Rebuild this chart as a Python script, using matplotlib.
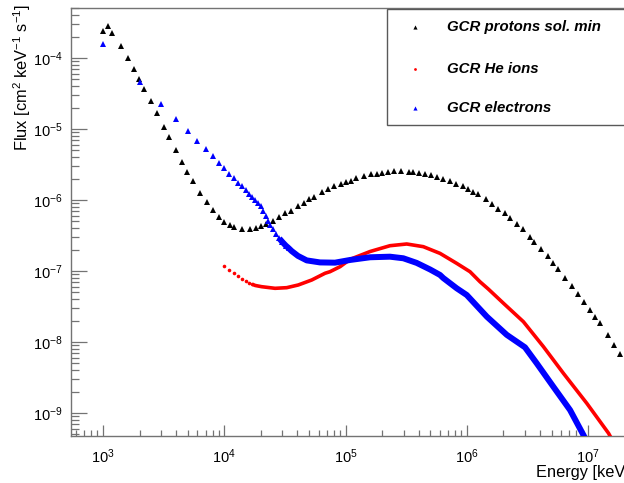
import matplotlib
matplotlib.use("Agg")
from matplotlib import pyplot as plt
from matplotlib.patches import Rectangle
from matplotlib.ticker import LogLocator, NullFormatter

plt.rcParams['font.family'] = ['Liberation Sans', 'DejaVu Sans']
plt.rcParams['mathtext.fontset'] = 'custom'
plt.rcParams['mathtext.rm'] = 'Liberation Sans'
plt.rcParams['mathtext.it'] = 'Liberation Sans:italic'
plt.rcParams['mathtext.bf'] = 'Liberation Sans:bold'

### data ###
# GCR protons, solar minimum
proton_e = [1.0e3, 1.09e3, 1.19e3, 1.40e3, 1.60e3, 1.79e3, 1.99e3, 2.19e3, 2.49e3, 2.80e3,
            3.20e3, 3.48e3, 4.00e3, 4.51e3, 4.95e3, 5.52e3, 6.34e3, 7.16e3, 8.02e3, 9.04e3,
            1.00e4, 1.11e4, 1.21e4, 1.41e4, 1.62e4, 1.81e4, 2.01e4, 2.22e4, 2.51e4, 2.82e4,
            3.16e4, 3.55e4, 4.07e4, 4.54e4, 5.02e4, 5.52e4, 6.35e4, 7.20e4, 8.07e4, 9.11e4,
            1.01e5, 1.11e5, 1.22e5, 1.42e5, 1.63e5, 1.80e5, 2.00e5, 2.22e5, 2.52e5, 2.86e5,
            3.31e5, 3.61e5, 4.05e5, 4.54e5, 5.06e5, 5.64e5, 6.39e5, 7.26e5, 8.13e5, 9.24e5,
            1.03e6, 1.13e6, 1.23e6, 1.43e6, 1.62e6, 1.82e6, 2.05e6, 2.27e6, 2.57e6, 2.89e6,
            3.31e6, 3.59e6, 4.10e6, 4.63e6, 5.15e6, 5.63e6, 6.47e6, 7.31e6, 8.28e6, 9.23e6,
            1.03e7, 1.13e7, 1.24e7, 1.45e7, 1.64e7, 1.84e7]
proton_flux = [2.43e-4, 2.85e-4, 2.27e-4, 1.46e-4, 9.9e-5, 6.93e-5, 5.06e-5, 3.70e-5, 2.45e-5, 1.66e-5,
               1.07e-5, 7.80e-6, 5.06e-6, 3.40e-6, 2.48e-6, 1.85e-6, 1.27e-6, 9.38e-7, 7.23e-7, 5.77e-7,
               4.94e-7, 4.38e-7, 4.12e-7, 3.85e-7, 3.85e-7, 4.03e-7, 4.31e-7, 4.55e-7, 5.01e-7, 5.67e-7,
               6.50e-7, 7.07e-7, 8.23e-7, 9.17e-7, 1.02e-6, 1.11e-6, 1.28e-6, 1.44e-6, 1.57e-6, 1.68e-6,
               1.77e-6, 1.87e-6, 2.02e-6, 2.20e-6, 2.30e-6, 2.35e-6, 2.43e-6, 2.48e-6, 2.56e-6, 2.56e-6,
               2.48e-6, 2.47e-6, 2.43e-6, 2.32e-6, 2.25e-6, 2.13e-6, 2.00e-6, 1.85e-6, 1.68e-6, 1.56e-6,
               1.43e-6, 1.31e-6, 1.22e-6, 1.02e-6, 8.79e-7, 7.40e-7, 6.50e-7, 5.63e-7, 4.64e-7, 3.87e-7,
               3.04e-7, 2.60e-7, 2.02e-7, 1.63e-7, 1.28e-7, 1.06e-7, 7.89e-8, 6.15e-8, 4.74e-8, 3.66e-8,
               2.82e-8, 2.27e-8, 1.83e-8, 1.26e-8, 9.07e-9, 6.71e-9]

# GCR He ions: separate points at low energy, dense curve after
he_e_pts = [1.0e4, 1.1e4, 1.2e4, 1.3e4, 1.4e4, 1.5e4, 1.6e4, 1.7e4]
he_flux_pts = [1.16e-7, 1.03e-7, 9.29e-8, 8.51e-8, 7.80e-8, 7.23e-8, 6.84e-8, 6.50e-8]
he_e = [1.7e4, 1.8e4, 2.03e4, 2.62e4, 3.27e4, 4.07e4, 5.26e4, 6.77e4, 7.43e4, 9.0e4,
        1.09e5, 1.59e5, 2.32e5, 3.19e5, 4.37e5, 6.00e5, 8.24e5, 1.06e6, 1.28e6, 1.50e6,
        2.00e6, 2.92e6, 4.27e6, 6.24e6, 9.72e6, 1.47e7, 1.66e7]
he_flux = [6.50e-8, 6.25e-8, 6.01e-8, 5.70e-8, 5.82e-8, 6.35e-8, 7.47e-8, 9.29e-8, 9.77e-8, 1.15e-7,
           1.46e-7, 1.88e-7, 2.27e-7, 2.40e-7, 2.20e-7, 1.77e-7, 1.28e-7, 9.77e-8, 7.06e-8, 5.57e-8,
           3.51e-8, 1.93e-8, 8.59e-9, 3.62e-9, 1.37e-9, 5.18e-10, 3.54e-10]

# GCR electrons
el_e_pts = [1e3, 2e3, 3e3, 4e3, 5e3, 6e3, 7e3, 8e3, 9e3, 1.0e4,
            1.1e4, 1.2e4, 1.3e4, 1.4e4, 1.5e4, 1.6e4, 1.7e4, 1.8e4, 1.9e4, 2.0e4,
            2.08e4, 2.20e4, 2.30e4, 2.40e4, 2.51e4, 2.67e4, 2.84e4, 3.01e4, 3.21e4, 3.40e4]
el_flux_pts = [1.59e-4, 4.64e-5, 2.27e-5, 1.38e-5, 9.29e-6, 6.84e-6, 5.23e-6, 4.14e-6, 3.32e-6, 2.80e-6,
               2.36e-6, 2.03e-6, 1.76e-6, 1.55e-6, 1.37e-6, 1.23e-6, 1.09e-6, 9.90e-7, 9.08e-7, 8.28e-7,
               7.11e-7, 5.96e-7, 5.06e-7, 4.45e-7, 3.87e-7, 3.32e-7, 2.87e-7, 2.56e-7, 2.28e-7, 2.09e-7]
el_e = [2.84e4, 3.01e4, 3.21e4, 3.40e4, 3.59e4, 4.05e4, 4.78e4, 6.15e4, 8.18e4, 1.09e5,
        1.59e5, 2.32e5, 2.99e5, 3.85e5, 4.97e5, 6.00e5, 6.38e5, 8.24e5, 9.96e5, 1.46e6, 2.13e6,
        3.01e6, 3.76e6, 5.15e6, 7.08e6, 9.12e6, 1.0e7]
el_flux = [2.87e-7, 2.56e-7, 2.28e-7, 2.09e-7, 1.91e-7, 1.63e-7, 1.41e-7, 1.32e-7, 1.31e-7, 1.43e-7,
           1.56e-7, 1.59e-7, 1.51e-7, 1.30e-7, 1.05e-7, 8.79e-8, 7.96e-8, 5.70e-8, 4.59e-8, 2.27e-8, 1.26e-8,
           8.41e-9, 5.01e-9, 2.35e-9, 1.10e-9, 4.90e-10, 3.60e-10]

legend_labels = ["GCR protons sol. min", "GCR He ions", "GCR electrons"]

### figure ###
W, H = 624, 483
fig = plt.figure(figsize=(W / 100, H / 100), dpi=100)

# frame in pixels (left, bottom, right, top)
fl, fb, fr, ft = 71, 436, 640, 8
ax = fig.add_axes([fl / W, 1 - fb / H, (fr - fl) / W, (fb - ft) / H])

ax.plot(proton_e, proton_flux, ls='none', marker='^', ms=4.0, mew=0, color='black', zorder=3)
ax.plot(he_e, he_flux, color='red', lw=2.6, zorder=4, solid_capstyle='butt')
ax.plot(he_e_pts, he_flux_pts, ls='none', marker='o', ms=2.6, mew=0, color='red', zorder=4)
ax.plot(el_e, el_flux, color='blue', lw=4.3, zorder=5, solid_capstyle='butt')
ax.plot(el_e_pts, el_flux_pts, ls='none', marker='^', ms=4.0, mew=0, color='blue', zorder=5)

ax.set_xscale('log')
ax.set_yscale('log')
ax.set_xlim(545, 2.67e7)
ax.set_ylim(4.74e-10, 5.06e-4)

ax.xaxis.set_minor_locator(LogLocator(base=10, subs=range(2, 10), numticks=20))
ax.yaxis.set_minor_locator(LogLocator(base=10, subs=range(2, 10), numticks=20))
ax.xaxis.set_minor_formatter(NullFormatter())
ax.yaxis.set_minor_formatter(NullFormatter())

ax.tick_params(axis='x', which='major', direction='in', length=8, width=0.9, color='0.45',
               labelsize=10.5, pad=8)
ax.tick_params(axis='x', which='minor', direction='in', length=4.2, width=0.9, color='0.45')
ax.tick_params(axis='y', which='major', direction='in', length=11.5, width=0.9, color='0.45',
               labelsize=10.5, pad=6)
ax.tick_params(axis='y', which='minor', direction='in', length=5.8, width=0.9, color='0.45')

for s in ['left', 'bottom', 'top']:
    ax.spines[s].set_color('0.45')
    ax.spines[s].set_linewidth(1.0)
ax.spines['right'].set_visible(False)

fig.text(22 / W, 1 - 4 / H, r"Flux [cm$^{2}$ keV$^{-1}$ s$^{-1}$]", rotation=90,
         ha='center', va='top', fontsize=11.8)
fig.text(630 / W, 1 - 472 / H, "Energy [keV]", ha='right', va='center', fontsize=11.8)

### legend ###
leg_box = Rectangle((386.5 / W, 1 - 125 / H), (700 - 386.5) / W, (125 - 9) / H,
                    transform=fig.transFigure, facecolor='white', edgecolor='0.35',
                    lw=1.0, zorder=10)
fig.patches.append(leg_box)

leg_y = [27, 69, 108]
leg_marker = ['^', 'o', '^']
leg_color = ['black', 'red', 'blue']
leg_size = [3.0, 2.0, 3.0]
for lab, yy, mk, c, sz in zip(legend_labels, leg_y, leg_marker, leg_color, leg_size):
    fig.lines.append(plt.Line2D([415 / W], [1 - yy / H], transform=fig.transFigure,
                                ls='none', marker=mk, ms=sz, mew=0, color=c, zorder=11))
    fig.text(447 / W, 1 - yy / H, lab, ha='left', va='center', fontsize=10.8,
             fontweight='bold', fontstyle='italic', zorder=11)

fig.savefig("out.png", dpi=100)
